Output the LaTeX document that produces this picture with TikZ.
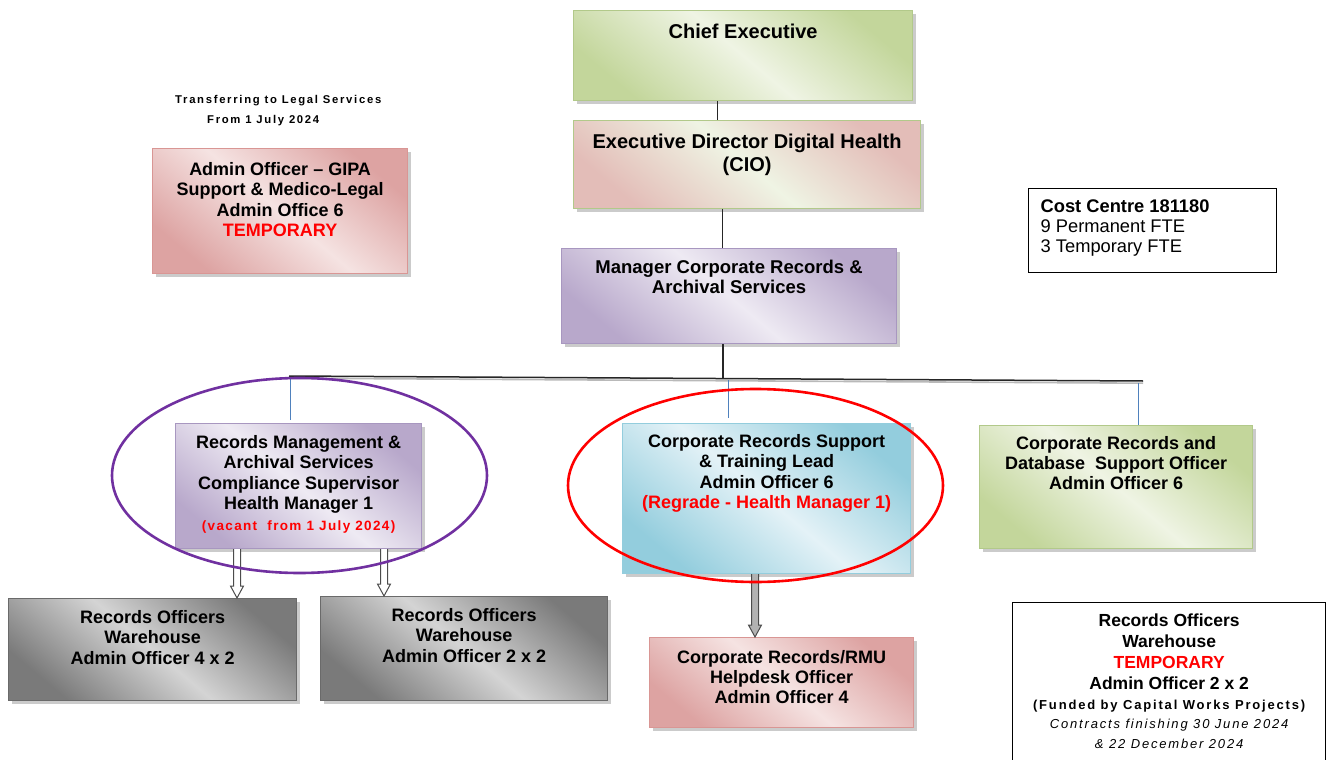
\documentclass[tikz,border=0pt]{standalone}
\usepackage{fontspec}
\setmainfont{Liberation Sans}
\newfontfamily\trk[LetterSpace=14]{Liberation Sans}
\newfontfamily\trkb[LetterSpace=10]{Liberation Sans}
\newfontfamily\trkn[LetterSpace=15]{Liberation Sans}
\usetikzlibrary{shadows,arrows.meta,calc}
\definecolor{greenD}{HTML}{C3D69B}
\definecolor{greenL}{HTML}{EFF4E4}
\definecolor{greenB}{HTML}{B2C98A}
\definecolor{pinkD}{HTML}{DDA3A2}
\definecolor{pinkL}{HTML}{F5E3E2}
\definecolor{pinkB}{HTML}{D99694}
\definecolor{purpD}{HTML}{B8A8CB}
\definecolor{purpL}{HTML}{EEEAF3}
\definecolor{purpB}{HTML}{A897C0}
\definecolor{blueD}{HTML}{93CDDD}
\definecolor{blueL}{HTML}{E4F2F7}
\definecolor{blueB}{HTML}{93CDDD}
\definecolor{grayD}{HTML}{7A7A7A}
\definecolor{grayL}{HTML}{D4D4D4}
\definecolor{grayB}{HTML}{6A6A6A}
\definecolor{edpink}{HTML}{E3BDB8}
\definecolor{linkblue}{HTML}{4F81BD}
\definecolor{ovpurple}{HTML}{7030A0}
\newcommand\bt[6]{\parbox[c][#2pt][t]{#1pt}{\fontsize{#4}{#5}\selectfont\centering\vspace*{#3pt}#6\par}}
\begin{document}
\begin{tikzpicture}[x=1pt,y=-1pt,
  box/.style={anchor=north west, inner sep=0pt, line width=1.2pt,
    drop shadow={shadow xshift=3pt, shadow yshift=-3pt, fill=black!45, opacity=0.45}},
  sh/.style n args={2}{left color=#1, right color=#1, middle color=#2, shading angle=-40},
  grn/.style={box, draw=greenB, sh={greenD}{greenL}},
  edbox/.style={box, draw=greenB, sh={edpink}{greenL}},
  pnk/.style={box, draw=pinkB, sh={pinkD}{pinkL}},
  prp/.style={box, draw=purpB, sh={purpD}{purpL}},
  blu/.style={box, draw=blueB, sh={blueD}{blueL}},
  gry/.style={box, draw=grayB, sh={grayD}{grayL}},
  plain/.style={anchor=north west, inner sep=0pt, draw=black, line width=1.3pt, fill=white},
  conn/.style={line width=1.5pt, black!85},
  drop/.style={line width=1pt, linkblue},
  harrow/.style={draw=black!70, fill=white, line width=1pt, line join=miter},
  oval/.style={line width=2.6pt}
]
\useasboundingbox (0,0) rectangle (1326,760);

% annotation
\node[anchor=north west, inner sep=0pt, align=left, font=\trkn\bfseries\fontsize{11.3}{20}\selectfont] (note) at (175,95)
  {Transferring to Legal Services\\\hspace*{32pt}From 1 July 2024};

% boxes
\node[grn] (ce) at (573,10) {\bt{339}{90}{13}{20}{23}{\bfseries Chief Executive}};
\node[edbox] (ed) at (573,120) {\bt{347}{88}{13}{20}{23}{\bfseries Executive Director Digital Health\\(CIO)}};
\node[prp] (mgr) at (561,248) {\bt{335}{95}{11}{18.5}{20.5}{\bfseries Manager Corporate Records \&\\Archival Services}};
\node[pnk] (gipa) at (152,148) {\bt{255}{125}{13.5}{18}{20.5}{\bfseries Admin Officer – GIPA\\Support \& Medico-Legal\\Admin Office 6\\\textcolor{red}{TEMPORARY}}};
\node[prp] (rm) at (175,423) {\bt{246}{125}{11.5}{18}{20.5}{\bfseries Records Management \&\\Archival Services\\Compliance Supervisor\\Health Manager 1\\{\trkb\fontsize{13.5}{16}\selectfont\color{red}(vacant\ \ from 1 July 2024)}}};
\node[blu] (sup) at (622,423) {\bt{288}{150}{10.5}{18}{20.5}{\bfseries Corporate Records Support\\\& Training Lead\\Admin Officer 6\\\textcolor{red}{(Regrade - Health Manager 1)}}};
\node[grn] (db) at (979,425) {\bt{273}{123}{10.5}{18}{20}{\bfseries Corporate Records and\\Database\ \ Support Officer\\Admin Officer 6}};
\node[gry] (ro1) at (8,598) {\bt{288}{102}{11.5}{18}{20.5}{\bfseries Records Officers\\Warehouse\\Admin Officer 4 x 2}};
\node[gry] (ro2) at (320,596) {\bt{287}{104}{11.5}{18}{20.5}{\bfseries Records Officers\\Warehouse\\Admin Officer 2 x 2}};
\node[pnk] (rmu) at (649,637) {\bt{264}{90}{12.5}{18}{20}{\bfseries Corporate Records/RMU\\Helpdesk Officer\\Admin Officer 4}};

\node[plain] (cc) at (1028,188) {\hspace*{12pt}\parbox[c][84pt][t]{236pt}{\fontsize{18.3}{20}\selectfont\raggedright\vspace*{11pt}\textbf{Cost Centre 181180}\\9 Permanent FTE\\3 Temporary FTE\par}};

\node[plain] (tmp) at (1012,602) {\parbox[c][170pt][t]{313pt}{\centering\fontsize{17.5}{21}\selectfont\vspace*{11.5pt}\bfseries Records Officers\\Warehouse\\\textcolor{red}{TEMPORARY}\\Admin Officer 2 x 2\par
  \trk\fontsize{13}{19.5}\selectfont (Funded by Capital Works Projects)\\\mdseries\itshape Contracts finishing 30 June 2024\\\& 22 December 2024\par}};

% connectors
\draw[conn] ([xshift=-25.5pt]ce.south) -- ([xshift=-25.5pt]ce.south |- ed.north);
\draw[conn] ([xshift=-24.5pt]ed.south) -- ([xshift=-24.5pt]ed.south |- mgr.north);
\coordinate (busL) at (289,376);
\coordinate (busR) at (1143,381);
\coordinate (jn) at (723,378.5);
\draw[gray!55, line width=1.6pt] ([yshift=-2.2pt]busL) -- ([yshift=-2.2pt]busR);
\draw[conn] (busL) -- (busR);
\draw[conn] (jn |- mgr.south) -- (jn);
\coordinate (d1) at (290,377);
\coordinate (d2) at (728,380);
\coordinate (d3) at (1138,382.5);
\draw[drop] (d1) -- ([yshift=3pt]d1 |- rm.north);
\draw[drop] (d2) -- ([yshift=5pt]d2 |- sup.north);
\draw[drop] (d3) -- (d3 |- db.north);

% hollow arrows (double-line shaft, open head)
\coordinate (a1) at (237,548);
\coordinate (a2) at (384,548);
\coordinate (a3) at (755,573);
\coordinate (s1) at (a1 |- rm.south);  \coordinate (e1) at (a1 |- ro1.north);
\coordinate (s2) at (a2 |- rm.south);  \coordinate (e2) at (a2 |- ro2.north);
\coordinate (s3) at (a3 |- sup.south); \coordinate (e3) at (a3 |- rmu.north);
\foreach \s/\e/\c in {s1/e1/white, s2/e2/white, s3/e3/black!30}{
  \draw[harrow, fill=\c] ($(\s)+(-3.5,0)$) -- ($(\e)+(-3.5,-12)$) -- ($(\e)+(-6.5,-12)$) -- (\e)
     -- ($(\e)+(6.5,-12)$) -- ($(\e)+(3.5,-12)$) -- ($(\s)+(3.5,0)$);
}

% highlight ovals
\draw[oval, ovpurple] (299.5,475.5) ellipse [x radius=187.5pt, y radius=97.5pt];
\draw[oval, red] (755.5,485.5) ellipse [x radius=187.5pt, y radius=96.5pt];
\end{tikzpicture}
\end{document}
